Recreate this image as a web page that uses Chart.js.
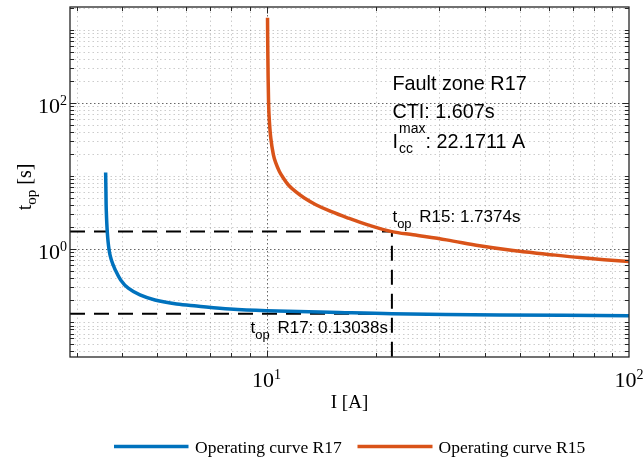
<!DOCTYPE html>
<html>
<head>
<meta charset="utf-8">
<script src="https://cdn.jsdelivr.net/npm/chart.js@4.4.1/dist/chart.umd.min.js"></script>
<style>
  html, body { margin: 0; padding: 0; background: #fff; }
  #wrap { width: 643px; height: 462px; position: relative; }
</style>
</head>
<body>
<div id="wrap"><canvas id="relayChart"></canvas></div>
<script>
/* relay coordination plot, log-log */
const xLimits = [2.868, 100];
const yLimits = [0.0335, 2050];

const r17Current = [3.597, 3.604, 3.611, 3.634, 3.674, 3.728, 3.824, 3.957, 4.153, 4.473, 4.92, 5.646, 6.412, 7.92, 10, 14.95, 22.1711, 44.0, 100];
const r17Time    = [11.2, 5.85, 3.455, 1.742, 1.0, 0.714, 0.5205, 0.3797, 0.2922, 0.2366, 0.202, 0.1781, 0.1672, 0.152, 0.144, 0.137, 0.13038, 0.126, 0.1232];

const r15Current = [10.06, 10.08, 10.128, 10.18, 10.27, 10.44, 10.595, 10.847, 11.11, 11.47, 12.008, 12.71, 13.68, 15.04, 16.71, 19.03, 22.1711, 25.37, 31.36, 38.7, 47.9, 59.2, 73.1, 100];
const r15Time    = [1460, 459, 100, 56.0, 33.2, 19.6, 15.21, 11.56, 9.48, 7.6, 6.15, 4.995, 4.045, 3.274, 2.685, 2.152, 1.7374, 1.57, 1.34, 1.11, 0.956, 0.854, 0.767, 0.676];

const faultCurrent = 22.1711;
const opTimeR15 = 1.7374;
const opTimeR17 = 0.13038;

const seriesNames = ["Operating curve R17", "Operating curve R15"];
const seriesColors = ["#0072BD", "#D95319"];

const xTickValues = [10, 100];
const xTickExps = ["1", "2"];
const yTickValues = [1, 100];
const yTickExps = ["0", "2"];

const infoLines = ["Fault zone R17", "CTI: 1.607s"];
const iccText = ": 22.1711 A";
const r15Label = " R15: 1.7374s";
const r17Label = " R17: 0.13038s";

const SERIF = "'Liberation Serif', 'Times New Roman', serif";
const SANS = "'Liberation Sans', Arial, sans-serif";
const AXIS = "#262626";

function logValues(min, max) {
  const out = [];
  for (let d = Math.floor(Math.log10(min)); d <= Math.ceil(Math.log10(max)); d++) {
    for (let k = 1; k <= 9; k++) {
      const v = Number((k * Math.pow(10, d)).toPrecision(6));
      if (v > min && v < max) out.push(v);
    }
  }
  return out;
}

const pts = (xs, ys) => xs.map((v, i) => ({ x: v, y: ys[i] }));

function runs(ctx, list, x, y) {
  list.forEach(([txt, font, dy, gap]) => {
    ctx.font = font;
    ctx.fillText(txt, x, y + (dy || 0));
    x += ctx.measureText(txt).width + (gap || 0);
  });
  return x;
}

const axesPlugin = {
  id: "matlabAxes",
  beforeDatasetsDraw(chart) {
    const { ctx, chartArea: a, scales: { x, y } } = chart;
    ctx.save();
    ctx.beginPath();
    ctx.rect(a.left, a.top, a.right - a.left, a.bottom - a.top);
    ctx.clip();
    ctx.lineWidth = 1;
    const vline = px => { px = Math.round(px) + 0.5; ctx.beginPath(); ctx.moveTo(px, a.top); ctx.lineTo(px, a.bottom); ctx.stroke(); };
    const hline = py => { py = Math.round(py) + 0.5; ctx.beginPath(); ctx.moveTo(a.left, py); ctx.lineTo(a.right, py); ctx.stroke(); };
    // minor grid
    ctx.strokeStyle = "rgba(0,0,0,0.2)";
    ctx.setLineDash([1.5, 3]);
    logValues(x.min, x.max).filter(v => !xTickValues.includes(v)).forEach(v => vline(x.getPixelForValue(v)));
    logValues(y.min, y.max).filter(v => !yTickValues.includes(v)).forEach(v => hline(y.getPixelForValue(v)));
    // major grid
    ctx.strokeStyle = "rgba(0,0,0,0.6)";
    ctx.setLineDash([1.5, 2.5]);
    xTickValues.filter(v => v < x.max).forEach(v => vline(x.getPixelForValue(v)));
    yTickValues.forEach(v => hline(y.getPixelForValue(v)));
    ctx.restore();
  },
  afterDatasetsDraw(chart) {
    const { ctx, chartArea: a, scales: { x, y } } = chart;
    ctx.save();
    ctx.strokeStyle = AXIS;
    ctx.lineWidth = 1.3;
    ctx.strokeRect(a.left, a.top, a.right - a.left, a.bottom - a.top);
    ctx.lineWidth = 1;
    const tickX = (v, len) => {
      const px = Math.round(x.getPixelForValue(v)) + 0.5;
      ctx.beginPath();
      ctx.moveTo(px, a.bottom); ctx.lineTo(px, a.bottom - len);
      ctx.moveTo(px, a.top); ctx.lineTo(px, a.top + len);
      ctx.stroke();
    };
    const tickY = (v, len) => {
      const py = Math.round(y.getPixelForValue(v)) + 0.5;
      ctx.beginPath();
      ctx.moveTo(a.left, py); ctx.lineTo(a.left + len, py);
      ctx.moveTo(a.right, py); ctx.lineTo(a.right - len, py);
      ctx.stroke();
    };
    logValues(x.min, x.max).forEach(v => tickX(v, xTickValues.includes(v) ? 6.5 : 4));
    logValues(y.min, y.max).forEach(v => tickY(v, yTickValues.includes(v) ? 6.5 : 4));
    ctx.restore();
  },
  afterDraw(chart) {
    const { ctx, chartArea: a, scales: { x, y } } = chart;
    ctx.save();
    ctx.fillStyle = "#000";
    ctx.textBaseline = "alphabetic";
    ctx.textAlign = "left";

    // tick labels
    const big = "22px " + SERIF, small = "14px " + SERIF;
    const labelWidth = exp => {
      ctx.font = big; const w1 = ctx.measureText("10").width;
      ctx.font = small; return w1 + ctx.measureText(exp).width;
    };
    xTickValues.forEach((v, i) => {
      const w = labelWidth(xTickExps[i]);
      runs(ctx, [["10", big], [xTickExps[i], small, -8]], x.getPixelForValue(v) - w / 2, a.bottom + 30);
    });
    yTickValues.forEach((v, i) => {
      const w = labelWidth(yTickExps[i]);
      runs(ctx, [["10", big], [yTickExps[i], small, -8]], a.left - 3 - w, y.getPixelForValue(v) + 10);
    });

    // axis titles
    ctx.font = "19px " + SERIF;
    ctx.textAlign = "center";
    ctx.fillText("I [A]", (a.left + a.right) / 2, 408);
    ctx.textAlign = "left";
    ctx.save();
    ctx.translate(31, 187);
    ctx.rotate(-Math.PI / 2);
    const yt = [["t", "20px " + SERIF], ["op", "15px " + SERIF, 5], [" [s]", "20px " + SERIF]];
    let tw = 0;
    yt.forEach(([t, f]) => { ctx.font = f; tw += ctx.measureText(t).width; });
    runs(ctx, yt, -tw / 2, 0);
    ctx.restore();

    // annotation box
    const f1 = "19.8px " + SANS, f2 = "14px " + SANS;
    ctx.font = f1;
    ctx.fillText(infoLines[0], 392.5, 90);
    ctx.fillText(infoLines[1], 392.5, 117.5);
    ctx.fillText("I", 392.5, 147.5);
    const sx = 392.5 + ctx.measureText("I").width + 1;
    ctx.font = f2;
    ctx.fillText("max", sx, 133);
    ctx.fillText("cc", sx, 153);
    const ex = sx + ctx.measureText("max").width;
    ctx.font = f1;
    ctx.fillText(iccText, ex, 147.5);

    // op time labels
    const m = "17px " + SANS, s = "13px " + SANS;
    runs(ctx, [["t", m], ["op", s, 6, 3], [r15Label, m]], x.getPixelForValue(faultCurrent) + 0.5, 222);
    runs(ctx, [["t", m], ["op", s, 6, 3], [r17Label, m]], 250.5, 333);

    // legend
    const legendY = 446.5;
    const entries = [[114, 188.5, 195], [357.5, 432.5, 438.5]];
    entries.forEach(([x0, x1, tx], i) => {
      ctx.strokeStyle = seriesColors[i];
      ctx.lineWidth = 3.5;
      ctx.beginPath(); ctx.moveTo(x0, legendY); ctx.lineTo(x1, legendY); ctx.stroke();
      ctx.font = "17.5px " + SERIF;
      ctx.fillText(seriesNames[i], tx, 452.5);
    });
    ctx.restore();
  }
};

const curve = (name, color, data) => ({
  label: name, data, showLine: true, borderColor: color, backgroundColor: color,
  borderWidth: 3.5, pointRadius: 0, tension: 0.35, borderJoinStyle: "round"
});
const dashed = data => ({
  label: "", data, showLine: true, borderColor: "#000", borderWidth: 2,
  borderDash: [15, 9], pointRadius: 0
});

new Chart(document.getElementById("relayChart"), {
  type: "scatter",
  data: {
    datasets: [
      curve(seriesNames[0], seriesColors[0], pts(r17Current, r17Time)),
      curve(seriesNames[1], seriesColors[1], pts(r15Current, r15Time)),
      dashed([{ x: xLimits[0], y: opTimeR15 }, { x: faultCurrent, y: opTimeR15 }, { x: faultCurrent, y: yLimits[0] }]),
      dashed([{ x: xLimits[0], y: opTimeR17 }, { x: faultCurrent, y: opTimeR17 }])
    ]
  },
  options: {
    responsive: true,
    maintainAspectRatio: false,
    animation: false,
    devicePixelRatio: 1,
    layout: { padding: { left: 70, top: 7, right: 14, bottom: 105 } },
    plugins: { legend: { display: false }, tooltip: { enabled: false } },
    scales: {
      x: { type: "logarithmic", min: xLimits[0], max: xLimits[1], display: false },
      y: { type: "logarithmic", min: yLimits[0], max: yLimits[1], display: false }
    }
  },
  plugins: [axesPlugin]
});
</script>
</body>
</html>
